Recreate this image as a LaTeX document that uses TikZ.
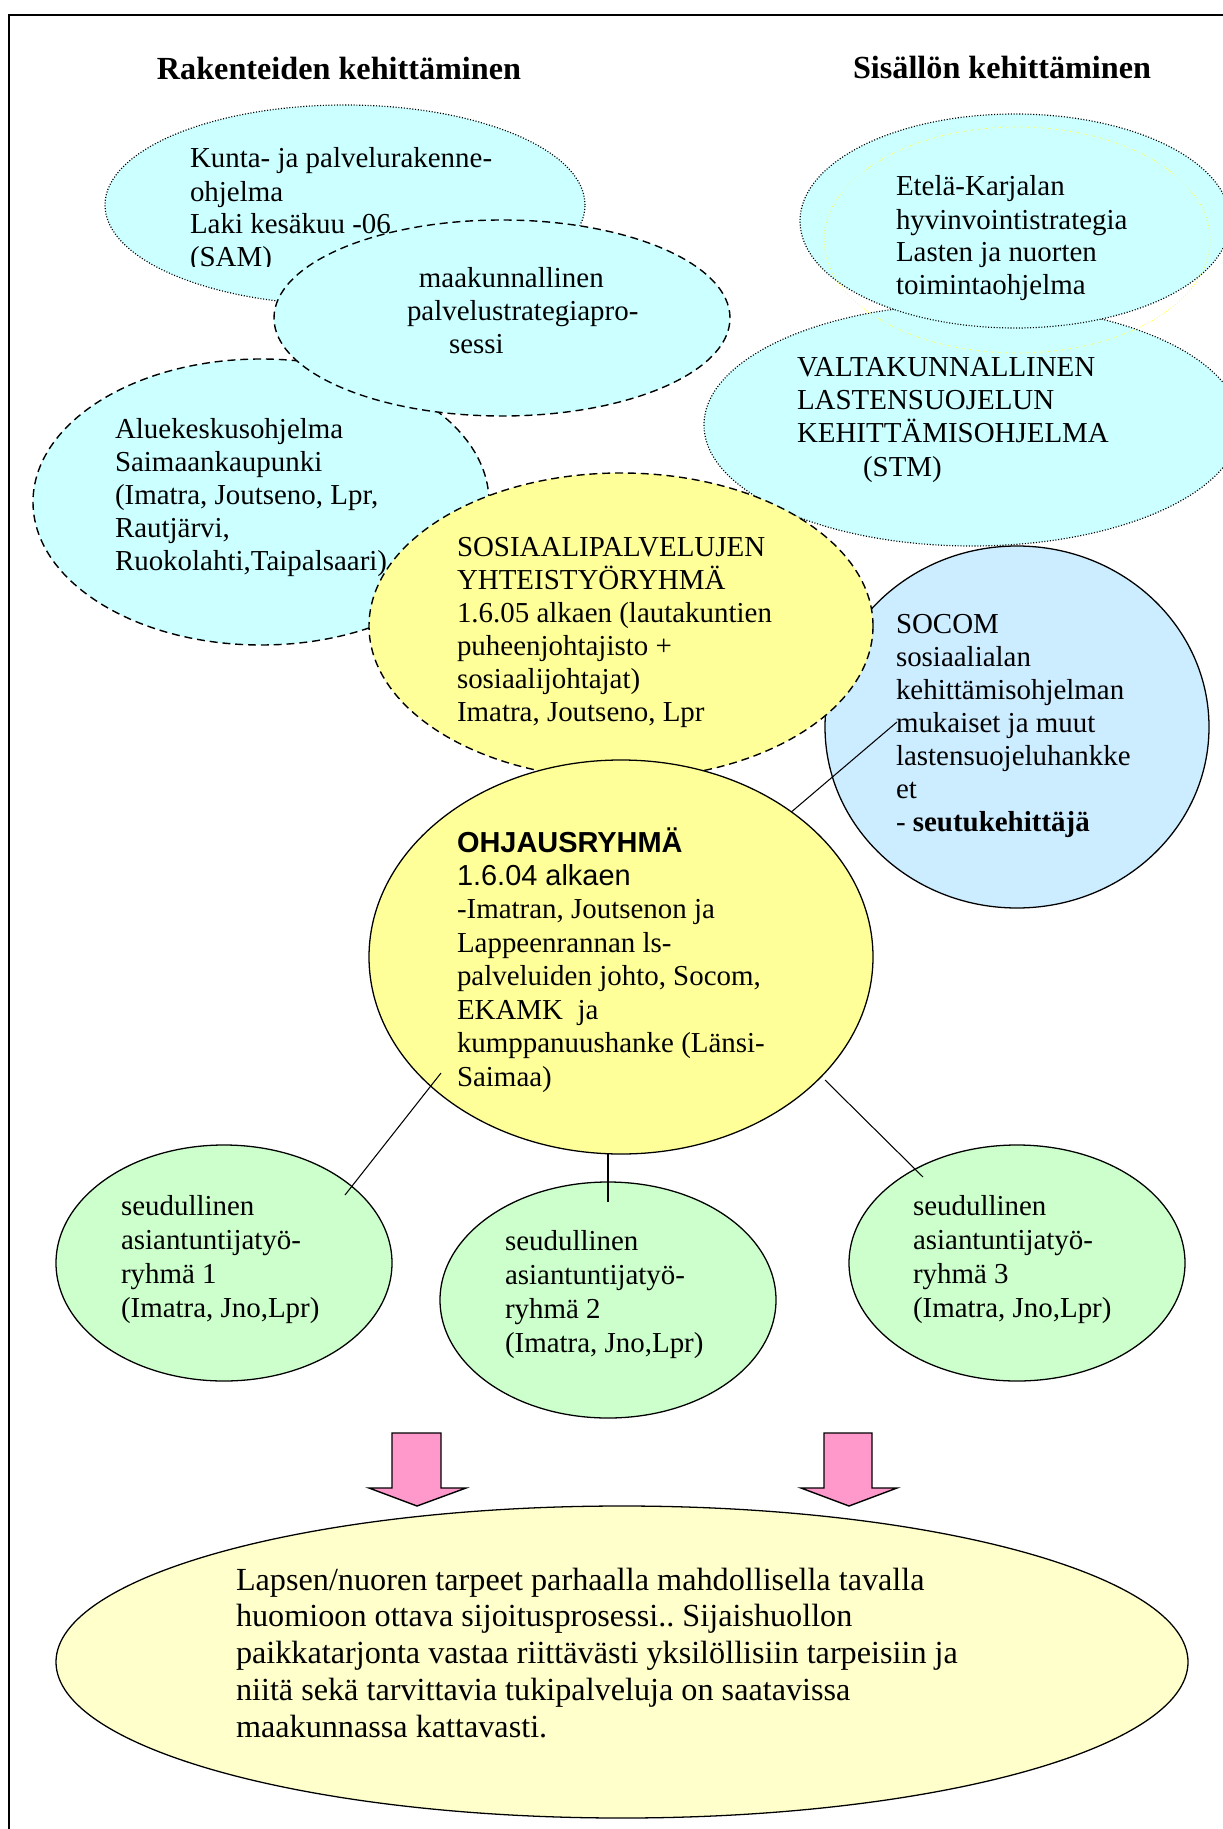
\documentclass[tikz,border=0pt]{standalone}
\usepackage{fontspec}
\setmainfont{Liberation Serif}
\newfontfamily\arialfont{Liberation Sans}
\usetikzlibrary{shapes.geometric}
\definecolor{cyanfill}{HTML}{CCFFFF}
\definecolor{yelfill}{HTML}{FFFF99}
\definecolor{bluefill}{HTML}{CCECFF}
\definecolor{greenfill}{HTML}{CCFFCC}
\definecolor{paleyel}{HTML}{FFFFCC}
\definecolor{pinkfill}{HTML}{FF99CC}
\definecolor{faintyel}{HTML}{FFFF66}
\newcommand\tl{\vrule height 12pt depth 0pt width 0pt}
\frenchspacing
\begin{document}
\begin{tikzpicture}[x=0.4285pt, y=-0.4285pt,
  ell/.style 2 args={ellipse, minimum width=#1*0.857pt, minimum height=#2*0.857pt, inner sep=0pt, outer sep=0pt},
  dotb/.style={draw=black, dash pattern=on 0.45pt off 0.75pt, line width=0.5pt},
  dashb/.style={draw=black, dash pattern=on 3.4pt off 2.1pt, line width=0.6pt},
  solidb/.style={draw=black, line width=0.55pt},
  txt/.style={anchor=north west, inner sep=0pt, outer sep=0pt, align=left, font=\fontsize{12.4}{14.14}\selectfont},
  ttl/.style={anchor=base, inner sep=0pt, font=\fontsize{13.8}{16}\selectfont\bfseries},
  conn/.style={draw=black, line width=0.45pt},
  blockarrow/.style={fill=pinkfill, draw=black, line width=0.6pt, line join=miter}]
\useasboundingbox (0,0) rectangle (1223,1829);
% frame
\draw[line width=0.9pt] (9,1829) -- (9,15) -- (1223,15);
% titles
\node[ttl] (t1) at (339,80) {Rakenteiden kehittäminen};
\node[ttl] (t2) at (1002,79) {Sisällön kehittäminen};
% Kunta
\node[ell={240}{100}, fill=cyanfill, dotb] (kunta) at (345,205) {};
\begin{scope}
\clip (0,0) rectangle (1223,267);
\node[txt] (kuntat) at (190,140) {\tl Kunta- ja palvelurakenne-\\ohjelma\\Laki kesäkuu -06\\(SAM)};
\end{scope}
% Alue
\node[ell={228}{143}, fill=cyanfill, dashb] (alue) at (261,502) {};
\node[txt] (aluet) at (115,410) {\tl Aluekeskusohjelma\\Saimaankaupunki\\(Imatra, Joutseno, Lpr,\\Rautjärvi,\\Ruokolahti,Taipalsaari)};
% Maakunnallinen
\node[ell={228}{98}, fill=cyanfill, dashb] (maak) at (502,318) {};
\node[txt] (maakt) at (407,259) {\tl\hspace*{5.1pt}maakunnallinen\\palvelustrategiapro-\\\hspace*{18pt}sessi};
% VALTA
\node[ell={268}{121}, fill=cyanfill, dotb] (valta) at (972,425) {};
\node[txt, font=\fontsize{12.4}{14.35}\selectfont] (valtat) at (797,348) {\tl VALTAKUNNALLINEN\\LASTENSUOJELUN\\KEHITTÄMISOHJELMA\\\hspace*{28.3pt}(STM)};
% Etela
\node[ell={215}{107}, fill=cyanfill, dotb] (etela) at (1015,221) {};
\node[ell={193}{113}, draw=faintyel, dash pattern=on 0.4pt off 0.8pt, line width=0.4pt] (faint) at (1017,240) {};
\node[txt] (etelat) at (896,168) {\tl Etelä-Karjalan\\hyvinvointistrategia\\Lasten ja nuorten\\toimintaohjelma};
% SOCOM
\node[ell={192}{181}, fill=bluefill, solidb] (socom) at (1017,727) {};
\node[txt] (socomt) at (896,605) {\tl SOCOM\\sosiaalialan\\kehittämisohjelman\\mukaiset ja muut\\lastensuojeluhankke\\et\\- \textbf{seutukehittäjä}};
% SOSIAALI
\node[ell={252}{153}, fill=yelfill, dashb] (sos) at (621,626) {};
\node[txt] (sost) at (457,528) {\tl SOSIAALIPALVELUJEN\\YHTEISTYÖRYHMÄ\\1.6.05 alkaen (lautakuntien\\puheenjohtajisto +\\sosiaalijohtajat)\\Imatra, Joutseno, Lpr};
% OHJAUS
\node[ell={252}{197}, fill=yelfill, solidb] (ohj) at (621,957) {};
\node[txt, font=\fontsize{12.4}{14.35}\selectfont] (ohjt) at (457,824) {\tl{\arialfont\bfseries OHJAUSRYHMÄ}\\{\arialfont 1.6.04 alkaen}\\-Imatran, Joutsenon ja\\Lappeenrannan ls-\\palveluiden johto, Socom,\\EKAMK \ ja\\kumppanuushanke (Länsi-\\Saimaa)};
% seudulliset
\node[ell={168}{118}, fill=greenfill, solidb] (s1) at (224,1263) {};
\node[txt, font=\fontsize{12.4}{14.57}\selectfont] (s1t) at (121,1187) {\tl seudullinen\\asiantuntijatyö-\\ryhmä 1\\(Imatra, Jno,Lpr)};
\node[ell={168}{118}, fill=greenfill, solidb] (s2) at (608,1300) {};
\node[txt, font=\fontsize{12.4}{14.57}\selectfont] (s2t) at (505,1222) {\tl seudullinen\\asiantuntijatyö-\\ryhmä 2\\(Imatra, Jno,Lpr)};
\node[ell={168}{118}, fill=greenfill, solidb] (s3) at (1017,1263) {};
\node[txt, font=\fontsize{12.4}{14.57}\selectfont] (s3t) at (913,1187) {\tl seudullinen\\asiantuntijatyö-\\ryhmä 3\\(Imatra, Jno,Lpr)};
% connectors
\coordinate (socend) at (897,722);
\draw[conn] (ohj) -- (socend);
\coordinate (a1) at (441,1073);
\coordinate (b1) at (345,1195);
\draw[conn] (a1) -- (b1);
\coordinate (a2) at (608,1153);
\coordinate (b2) at (608,1202);
\draw[conn] (a2) -- (b2);
\coordinate (a3) at (825,1080);
\coordinate (b3) at (923,1177);
\draw[conn] (a3) -- (b3);
% bottom ellipse
\node[ell={566}{156}, fill=paleyel, solidb] (goal) at (622,1662) {};
\node[txt, font=\fontsize{13.8}{15.75}\selectfont] (goalt) at (236,1562) {\tl Lapsen/nuoren tarpeet parhaalla mahdollisella tavalla\\huomioon ottava sijoitusprosessi.. Sijaishuollon\\paikkatarjonta vastaa riittävästi yksilöllisiin tarpeisiin ja\\niitä sekä tarvittavia tukipalveluja on saatavissa\\maakunnassa kattavasti.};
% block arrows
\draw[blockarrow] (392,1433) -- (441,1433) -- (441,1488) -- (466,1488) -- (417,1506) -- (369,1488) -- (392,1488) -- cycle;
\draw[blockarrow] (824,1433) -- (872,1433) -- (872,1488) -- (897,1488) -- (849,1506) -- (801,1488) -- (824,1488) -- cycle;
\end{tikzpicture}
\end{document}
